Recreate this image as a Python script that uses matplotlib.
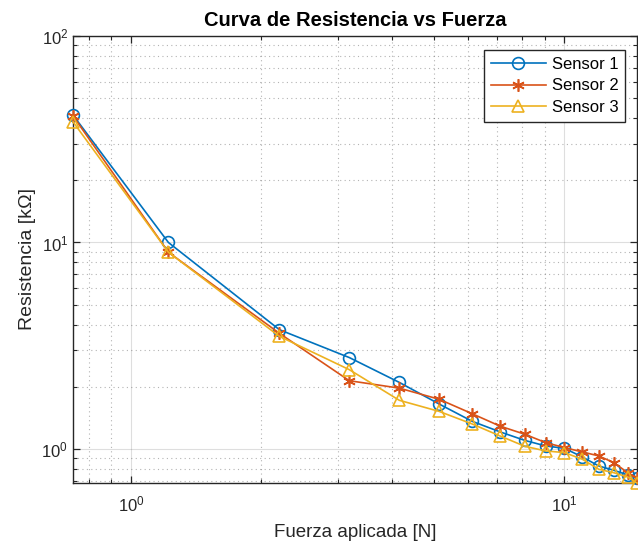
import matplotlib
matplotlib.use("Agg")
import matplotlib.pyplot as plt
import numpy as np

fuerza = [0.735, 1.22, 2.2, 3.19, 4.16, 5.14, 6.13, 7.1, 8.1, 9.05, 10.0, 11.0, 12.0, 13.0, 14.0, 14.7]
sensor1 = [41.4, 10.0, 3.78, 2.77, 2.10, 1.65, 1.36, 1.21, 1.10, 1.034, 1.007, 0.914, 0.827, 0.788, 0.748, 0.721]
sensor2 = [41.0, 8.97, 3.63, 2.14, 1.97, 1.74, 1.48, 1.29, 1.178, 1.073, 1.015, 0.967, 0.925, 0.858, 0.767, 0.725]
sensor3 = [38.4, 8.97, 3.51, 2.42, 1.72, 1.52, 1.32, 1.156, 1.03, 0.978, 0.96, 0.891, 0.797, 0.767, 0.731, 0.684]
labels = ["Sensor 1", "Sensor 2", "Sensor 3"]

plt.rcParams['font.family'] = ['Liberation Sans', 'DejaVu Sans']
plt.rcParams['mathtext.fontset'] = 'custom'
plt.rcParams['mathtext.rm'] = 'Liberation Sans'
plt.rcParams['mathtext.it'] = 'Liberation Sans:italic'

fig = plt.figure(figsize=(6.38, 5.42), dpi=100)
ax = fig.add_axes([73/638, 1-483/542, (637-73)/638, (483-36)/542])

c1, c2, c3 = '#0072BD', '#D95319', '#EDB120'
ax.plot(fuerza, sensor1, '-', color=c1, marker='o', mfc='none', mec=c1, ms=8.5, lw=1.2, mew=1.2, label=labels[0], clip_on=False, zorder=3)
ax.plot(fuerza, sensor2, '-', color=c2, marker=(6, 2, 0), mec=c2, ms=9, lw=1.2, mew=1.2, label=labels[1], clip_on=False, zorder=3)
ax.plot(fuerza, sensor3, '-', color=c3, marker='^', mfc='none', mec=c3, ms=9, lw=1.2, mew=1.2, label=labels[2], clip_on=False, zorder=3)

ax.set_xscale('log')
ax.set_yscale('log')
ax.set_xlim(min(fuerza), max(fuerza))
allv = sensor1 + sensor2 + sensor3
ax.set_ylim(min(allv), 100)

gc = (0.15, 0.15, 0.15)
ax.grid(True, which='major', color=gc, alpha=0.15, lw=0.8, ls='-')
ax.grid(True, which='minor', color=gc, alpha=0.35, lw=0.8, ls=(0, (1, 3)))
ax.set_axisbelow(True)

ax.tick_params(which='both', direction='in', top=True, right=True, colors=gc, labelcolor=(0.15, 0.15, 0.15), labelsize=12)
ax.tick_params(which='major', length=5, width=0.9)
ax.tick_params(which='minor', length=3, width=0.8)
ax.tick_params(axis='x', pad=8)
for s in ax.spines.values():
    s.set_color(gc)
    s.set_linewidth(1.0)

ax.set_xlabel('Fuerza aplicada [N]', fontsize=13.5, color=(0.15, 0.15, 0.15), labelpad=7)
ax.set_ylabel('Resistencia [kΩ]', fontsize=14, color=(0.15, 0.15, 0.15), labelpad=4)
ax.set_title('Curva de Resistencia vs Fuerza', fontsize=14.5, fontweight='bold', pad=7)

leg = ax.legend(loc='upper right', fontsize=12, frameon=True, fancybox=False,
                edgecolor=gc, framealpha=1, borderaxespad=0.0, handlelength=3.3,
                handletextpad=0.35,
                bbox_to_anchor=((625-73)/(637-73), 1-(50-36)/(483-36)), labelspacing=0.4,
                borderpad=0.4)
leg.get_frame().set_linewidth(1.0)

fig.savefig('out.png', dpi=100)
